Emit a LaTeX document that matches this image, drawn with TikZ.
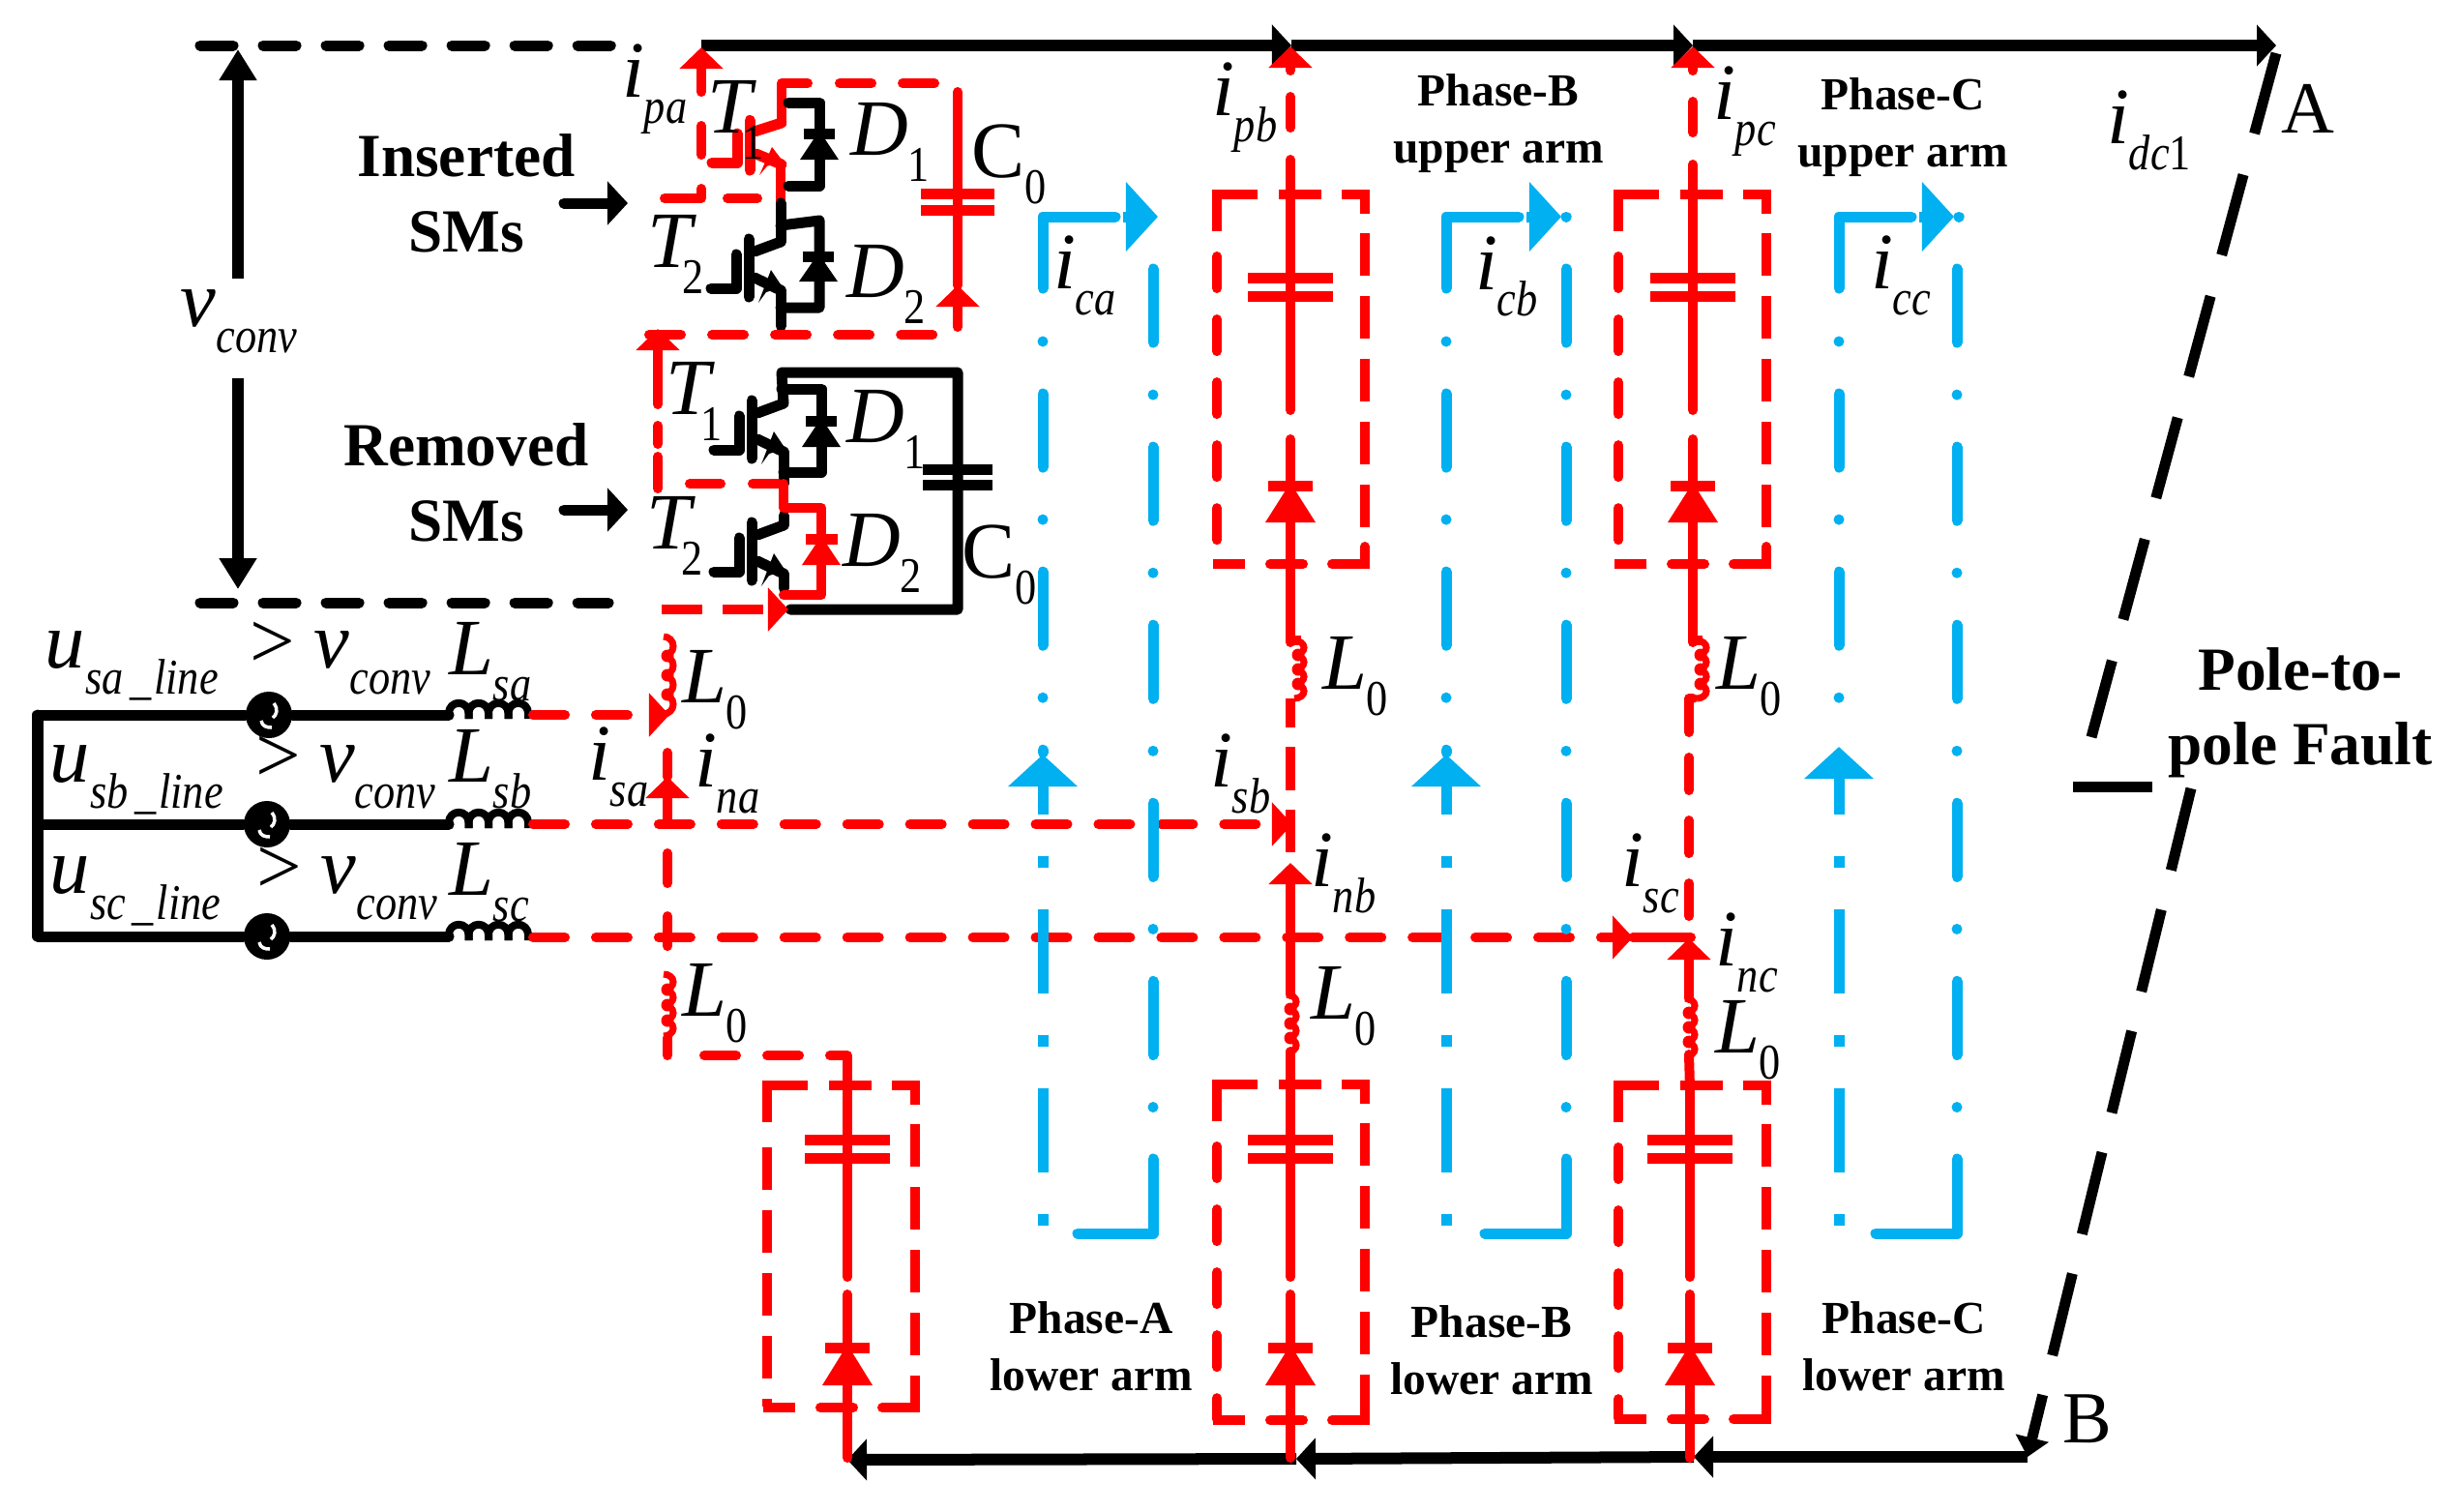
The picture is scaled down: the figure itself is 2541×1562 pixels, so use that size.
\documentclass[tikz,border=0pt]{standalone}
\usepackage{fontspec}
\setmainfont{Liberation Serif}
\usetikzlibrary{arrows.meta}

\definecolor{loopblue}{HTML}{00B0F0}

\tikzset{
  wire/.style={line width=.11cm, line cap=round, line join=round},
  railwire/.style={line width=.12cm},
  redwire/.style={wire, color=red, line width=.10cm},
  reddash/.style={redwire, dash pattern=on .33cm off .319cm},
  redbutt/.style={redwire, line cap=butt, dash pattern=on .42cm off .21cm},
  armround/.style={redwire, dash pattern=on .33cm off .32cm},
  armbutt/.style={redwire, line cap=butt, dash pattern=on .44cm off .21cm},
  bluewire/.style={wire, color=loopblue},
  bluedot/.style={bluewire, dash pattern=on .76cm off .54cm on 0cm off .54cm},
  bluedotb/.style={bluewire, dash pattern=on 0cm off .54cm on .76cm off .54cm},
  blueflat/.style={bluewire, line cap=butt, dash pattern=on .12cm off .43cm on .87cm off .43cm},
  voltdash/.style={wire, dash pattern=on .34cm off .31cm},
  faultwire/.style={wire, line cap=butt},
  railhead/.style={-{Triangle[length=.20cm, width=.42cm]}},
  redhead/.style={-{Triangle[length=.22cm, width=.44cm]}},
  sidehead/.style={-{Triangle[length=.21cm, width=.44cm]}},
  bighead/.style={-{Triangle[length=.32cm, width=.37cm]}},
  bluehead/.style={-{Triangle[length=.33cm, width=.70cm]}},
  acsource/.style={circle, fill=black, minimum size=.48cm, inner sep=0pt},
  lbl/.style={anchor=base west, inner sep=0pt, outer sep=0pt, xshift=-.04cm},
  gtsign/.style={lbl, font=\fontsize{23.5}{24}\selectfont},
  smtext/.style={align=center, inner sep=0pt, font=\fontsize{18}{22}\selectfont\bfseries},
  armtext/.style={align=center, inner sep=0pt, font=\fontsize{13.5}{16.8}\selectfont\bfseries}
}

% symbol with lowered subscript
\newcommand{\lsym}[3][0pt]{{\fontsize{23.5}{24}\selectfont\itshape #2}\kern#1\raisebox{-7.7pt}{\scalebox{.9}[1.05]{\fontsize{14}{14}\selectfont\itshape #3}}}

\newcommand{\igbt}[3]{%
  \begin{scope}[shift={(#1)}, yscale=#3, #2, wire]
    \draw (0,0) -- (-27,10);
    \draw (-33,-3) -- (-33,57);
    \draw (-46,13) -- (-46,48) -- (-72,48);
    \draw (-27,37) -- (0,50);
    \fill (-10,29) -- (2,47) -- (-15,52) -- (-23,63) -- cycle;
  \end{scope}}

\newcommand{\diode}[5]{%
  \begin{scope}[shift={(#1)}]
    \fill[#2] (-#3,-5.5) rectangle (#3,5.5);
    \fill[#2] (-#4,#5) -- (#4,#5) -- (0,-3) -- cycle;
  \end{scope}}

\newcommand{\capplates}[4]{%
  \begin{scope}[shift={(#1)}]
    \draw[#2, line width=.11cm] (-#3,0) -- (#3,0);
    \draw[#2, line width=.11cm] (-#3,#4) -- (#3,#4);
  \end{scope}}

\newcommand{\hcoil}[1]{%
  \begin{scope}[shift={(#1)}]
    \foreach \k in {0,20.5,41,61.5}
      \draw[line width=.08cm, line join=round] (\k,6) -- (\k,0)
        arc[start angle=180, end angle=0, radius=.1025cm] -- (\k+20.5,6);
  \end{scope}}

\newcommand{\vcoil}[2]{%
  \begin{scope}[shift={(#1)}]
    \foreach \k in {0,1,2,3}
      \draw[red, line width=.07cm] (0,\k*#2)
        arc[start angle=90, end angle=-90, x radius=.10cm, y radius=#2*.005cm];
    \foreach \k in {1,2,3}
      \fill[red] (4,\k*#2) circle[radius=.065cm];
  \end{scope}}

\newcommand{\armbox}[5]{%
  \draw[redwire, line cap=butt, line join=miter] (#1,#3+38) -- (#1,#3) -- (#1+42,#3);
  \draw[redwire, line cap=butt] (#1+64,#3) -- (#1+108,#3);
  \draw[redwire, line cap=butt, line join=miter] (#1+129,#3) -- (#2,#3) -- (#2,#3+20);
  \draw[#5] (#1,#3+64) -- (#1,#4-1);
  \draw[armbutt] (#2,#3+40) -- (#2,#4);
  \draw[redwire, line cap=butt, line join=miter] (#1-4,#4) -- (#1+29,#4);
  \draw[redwire] (#1+55,#4) -- (#1+89,#4);
  \draw[redwire, line join=miter] (#1+119,#4) -- (#2,#4) -- (#2,#4-18);}

\begin{document}
\begin{tikzpicture}[x=.01cm, y=-.01cm]
  \useasboundingbox (0,0) rectangle (2541,1562);

  % Define nodes
  \foreach \n/\x/\y in {
    railA/725/47, railB/1335/47, railC/1750/47, railEnd/2353/47,
    botEnd/2096/1506, botC/1751/1506, botB/1340/1508, botA/876/1509,
    faultA/2353/55, faultM/2162/762, faultN/2265/815, faultTickA/2143/813, faultTickB/2225/813,
    voltTopA/207/47, voltTopB/662/47, voltBotA/207/623, voltBotB/629/623,
    voltArrow/246/288, voltTip/246/51, voltArrowB/246/391, voltTipB/246/609,
    insA/583/210, insB/649/210, remA/583/527, remB/649/527,
    frameA/39/739, frameB/39/852, frameC/39/968,
    coilA/464/739, coilB/464/852, coilC/464/968,
    hcoilA/464/737, hcoilB/464/850, hcoilC/464/966,
    saA/551/739, saTip/692/739, sbA/551/852, sbTip/1336/852, scA/551/969, scTip/1688/969, scEnd/1748/969,
    uOneCorner/808/86, uOneT/808/127, uOneEnd/835/86, uOneDashA/868/86, uOneDashB/967/86,
    uTwoT/807/250, uOneJoin/807/170, uMid/807/210, uBranch/807/233, uBranchB/847/228,
    uDiodeOne/847/138, uDiodeTwo/846/265,
    uLegA/815/106, uLegB/847/106, uLegC/847/192, uLegD/815/192,
    uLegE/847/318, uLegF/807/318, uEmit/807/300, uEnd/807/337,
    uCapTop/990/95, uCapPlate/990/200, uCapTip/990/295, uCapEnd/990/338,
    uBotA/671/346, uBotB/965/346,
    ipaStart/725/95, ipaTip/725/49, ipaA/725/130, ipaB/725/160, ipaC/725/195, ipaD/725/205, ipaE/687/205,
    ipaF/752/205, ipaG/783/205,
    lOneT/810/417, lTwoT/810/543, lTop/808/385, lTopR/990/385, lBotR/990/630, lBotL/817/630,
    lCapPlate/990/485,
    lLegA/808/402, lLegB/849/402, lLegC/849/488, lLegD/810/488, lEmitOne/810/467, lMid/810/500,
    lRedA/810/525, lRedB/849/525, lRedC/849/615, lRedD/810/615,
    lTwoA/810/533, lEmitTwo/810/593, lTwoEnd/810/608,
    lDiodeOne/849/435, lDiodeTwo/849/557,
    lUpA/680/505, lUpB/680/472, lUpC/680/459, lUpD/680/440, lUpE/680/418, lUpTip/680/340,
    lMidA/713/500, lMidB/745/500, lMidC/778/500, lMidD/805/500,
    lInA/684/630, lInTip/815/630,
    aCoilTop/686/658, aCoilEnd/690/740, naTop/690/778, naTip/690/803, naEnd/690/852,
    naDashA/690/882, naDashB/690/985, aCoilLow/686/1007, aLowA/690/1073, aLowB/690/1091,
    aDashA/728/1091, aDashB/827/1091, aSolid/858/1091, aCorner/876/1091, aBox/876/1125,
    bStub/1334/752, bDashA/1334/772, bDashB/1334/881, nbTip/1334/892, nbEnd/1334/1028,
    bLowA/1334/1087, bLowB/1334/1125,
    cStubA/1750/722, cStubB/1746/722, cStubC/1746/757, cDashA/1746/783, cDashB/1746/947,
    ncTip/1746/970, ncEnd/1746/1032, cLowA/1746/1090, cLowB/1747/1125
  } \coordinate (\n) at (\x,\y);

  \draw[railwire, railhead] (railA) -- (railB);
  \draw[railwire, railhead] (railB) -- (railC);
  \draw[railwire, railhead] (railC) -- (railEnd);
  \draw[railwire, railhead] (botEnd) -- (botC);
  \draw[railwire, railhead] (botC) -- (botB);
  \draw[railwire, railhead] (botB) -- (botA);

  % Fault line
  \draw[faultwire, dash pattern=on .86cm off .44cm] (faultA) -- (faultM);
  \draw[faultwire] (faultTickA) -- (faultTickB);
  \draw[faultwire, dash pattern=on .87cm off .42cm,
    -{Triangle[length=.20cm, width=.34cm]}] (faultN) -- (botEnd);

  % Voltage across the SMs
  \draw[voltdash] (voltTopA) -- (voltTopB);
  \draw[voltdash] (voltBotA) -- (voltBotB);
  \draw[wire, line cap=butt, bighead] (voltArrow) -- (voltTip);
  \draw[wire, line cap=butt, bighead] (voltArrowB) -- (voltTipB);
  \draw[wire, sidehead] (insA) -- (insB);
  \draw[wire, sidehead] (remA) -- (remB);

  % AC side
  \foreach \r/\xs/\y in {A/278/739, B/276/852, C/276/968} {
    \node[acsource] (src\r) at (\xs,\y) {};
    \draw[wire] (frame\r) -- (src\r) -- (coil\r);
    \draw[white, line width=.035cm] (\xs+5,\y-12) .. controls (\xs+10,\y-6) and (\xs+8,\y) .. (\xs+4,\y+3);
    \draw[white, line width=.035cm] (\xs-8,\y+6) .. controls (\xs-7,\y+12) and (\xs-2,\y+13) .. (\xs+3,\y+13);
    \hcoil{hcoil\r}
  }
  \draw[wire] (frameA) -- (frameC);

  % Upper SM
  \igbt{uOneT}{red}{.86}
  \draw[redwire] (uOneT) -- (uOneCorner) -- (uOneEnd);
  \draw[armround] (uOneDashA) -- (uOneDashB);
  \draw[redwire, line cap=butt] (uOneJoin) -- (uMid);
  \draw[wire] (uMid) -- (uTwoT);
  \igbt{uTwoT}{black}{1}
  \draw[wire] (uLegA) -- (uLegB) -- (uLegC) -- (uLegD);
  \diode{uDiodeOne}{black}{16}{20}{27}
  \draw[wire] (uBranch) -- (uBranchB) -- (uLegE) -- (uLegF);
  \draw[wire] (uEmit) -- (uEnd);
  \diode{uDiodeTwo}{black}{16}{20}{26}
  \draw[redwire] (uCapTop) -- (uCapTip);
  \draw[redwire, redhead] (uCapEnd) -- (uCapTip);
  \capplates{uCapPlate}{red}{38}{17}
  \draw[armround] (uBotA) -- (uBotB);
  \draw[redwire, redhead] (ipaStart) -- (ipaTip);
  \draw[redwire] (ipaA) -- (ipaB);
  \draw[redwire] (ipaC) -- (ipaD) -- (ipaE);
  \draw[redwire] (ipaF) -- (ipaG);

  % Lower SM
  \igbt{lOneT}{black}{1}
  \igbt{lTwoT}{black}{1}
  \draw[wire] (lOneT) -- (lTop) -- (lTopR) -- (lBotR) -- (lBotL);
  \capplates{lCapPlate}{black}{36}{16}
  \draw[wire] (lLegA) -- (lLegB) -- (lLegC) -- (lLegD);
  \draw[wire] (lEmitOne) -- (lMid);
  \diode{lDiodeOne}{black}{16}{20}{27}
  \draw[wire] (lTwoA) -- (lTwoT);
  \draw[wire] (lEmitTwo) -- (lTwoEnd);
  \draw[redwire] (lMid) -- (lRedA) -- (lRedB) -- (lRedC) -- (lRedD);
  \diode{lDiodeTwo}{red}{16.5}{20}{27}
  \draw[redwire, redhead] (lUpE) -- (lUpTip);
  \draw[redwire] (lUpD) -- (lUpC);
  \draw[redwire] (lUpB) -- (lUpA);
  \draw[redwire] (lMidA) -- (lMidB);
  \draw[redwire] (lMidC) -- (lMidD);
  \draw[redbutt, sidehead] (lInA) -- (lInTip);

  % Phase currents
  \draw[reddash, sidehead] (saA) -- (saTip);
  \draw[reddash, sidehead] (sbA) -- (sbTip);
  \draw[reddash, sidehead] (scA) -- (scTip);
  \draw[redwire] (scTip) -- (scEnd);

  % Phase-A inductors
  \vcoil{aCoilTop}{20}
  \draw[redwire, redhead] (naEnd) -- (naTip);
  \draw[redwire] (naTip) -- (naTop);
  \draw[redwire, dash pattern=on .31cm off .34cm] (naDashA) -- (naDashB);
  \vcoil{aCoilLow}{16}
  \draw[redwire] (aLowA) -- (aLowB);
  \draw[armround] (aDashA) -- (aDashB);
  \draw[redwire] (aSolid) -- (aCorner) -- (aBox);

  % Upper arms
  \foreach \p/\x/\d/\L in {b/1334/100/1258, c/1750/105/1673} {
    \coordinate (u\p0) at (\x,48);
    \coordinate (u\p1) at (\x,73);
    \coordinate (u\p2) at (\x,\d);
    \coordinate (u\p3) at (\x,\d+32);
    \coordinate (u\p4) at (\x,\d+65);
    \coordinate (u\p5) at (\x,424);
    \coordinate (u\p6) at (\x,454);
    \coordinate (u\p7) at (\x,664);
    \coordinate (u\p8) at (\x,722);
    \coordinate (u\p9) at (\x,287);
    \coordinate (u\p10) at (\x,502);
    \draw[redwire, redhead] (u\p1) -- (u\p0);
    \draw[redwire] (u\p2) -- (u\p3);
    \draw[redwire] (u\p4) -- (u\p5);
    \draw[redwire] (u\p6) -- (u\p7);
    \capplates{u\p9}{red}{44}{19}
    \diode{u\p10}{red}{23}{26}{38}
    \armbox{\L}{\L+153}{201}{583}{armround}
  }
  \vcoil{1338,662}{15}
  \vcoil{1754,662}{15}
  \draw[redwire, line cap=butt] (1334,662) -- (1345,662);
  \draw[redwire, line cap=butt] (1750,662) -- (1760,662);
  \draw[redwire, line cap=butt] (1334,722) -- (bStub);
  \draw[redwire, line cap=butt, dash pattern=on .45cm off .20cm] (bDashA) -- (bDashB);
  \draw[redwire] (cStubA) -- (cStubB) -- (cStubC);
  \draw[redwire, dash pattern=on .34cm off .31cm] (cDashA) -- (cDashB);
  \draw[redwire, redhead] (nbEnd) -- (nbTip);
  \draw[redwire, redhead] (ncEnd) -- (ncTip);
  \vcoil{1330,1028}{15}
  \vcoil{1742,1032}{15}
  \draw[redwire] (bLowA) -- (bLowB);
  \draw[redwire] (cLowA) -- (cLowB);

  % Lower arms
  \foreach \p/\x/\h in {a/876/44, b/1334/44, c/1747/44} {
    \coordinate (l\p1) at (\x,1125);
    \coordinate (l\p2) at (\x,1320);
    \coordinate (l\p3) at (\x,1338);
    \coordinate (l\p4) at (\x,1507);
    \coordinate (l\p5) at (\x,1178);
    \coordinate (l\p6) at (\x,1393);
    \draw[redwire] (l\p1) -- (l\p2);
    \draw[redwire] (l\p3) -- (l\p4);
    \capplates{l\p5}{red}{\h}{19}
    \diode{l\p6}{red}{23}{26}{39}
  }
  \armbox{793}{946}{1122}{1455}{armbutt}
  \armbox{1258}{1411}{1121}{1468}{armround}
  \armbox{1673}{1826}{1122}{1467}{armround}

  % Circulating currents
  \foreach \p/\xl/\xr/\tipy/\hook in {a/1078/1192/780/78, b/1495/1619/780/84, c/1901/2023/772/84} {
    \coordinate (cl\p1) at (\xl+75,224);
    \coordinate (cl\p2) at (\xl,224);
    \coordinate (cl\p3) at (\xl,298);
    \coordinate (cl\p4) at (\xl,353);
    \coordinate (cl\p5) at (\xl,\tipy-2);
    \coordinate (cl\p6) at (\xl,1267);
    \coordinate (cl\p7) at (\xl,\tipy);
    \coordinate (cl\p8) at (\xr,278);
    \coordinate (cl\p9) at (\xr,1146);
    \coordinate (cl\p10) at (\xr,1198);
    \coordinate (cl\p11) at (\xr,1275);
    \coordinate (cl\p12) at (\xr-\hook,1275);
    \coordinate (cl\p13) at (\xl+83,224);
    \coordinate (cl\p14) at (\xl+119,224);
    \draw[bluewire] (cl\p1) -- (cl\p2) -- (cl\p3);
    \draw[bluedotb] (cl\p4) -- (cl\p5);
    \draw[blueflat, bluehead] (cl\p6) -- (cl\p7);
    \draw[bluedot] (cl\p8) -- (cl\p9);
    \draw[bluewire] (cl\p10) -- (cl\p11) -- (cl\p12);
    \draw[bluewire, line cap=butt, bluehead] (cl\p13) -- (cl\p14);
  }
  \draw[bluewire] (1619,224) -- (1619.2,224);
  \draw[bluewire] (2025,224) -- (2025.2,224);

  % Labels
  \node[lbl] (vconv) at (191,337) {\lsym{v}{conv}};
  \node[smtext] (inserted) at (482,200) {Inserted\\SMs};
  \node[smtext] (removed) at (482,499) {Removed\\SMs};
  \node[lbl] (ipa) at (647,100) {\lsym{i}{pa}};
  \node[lbl] (ipb) at (1257,119) {\lsym{i}{pb}};
  \node[lbl] (ipc) at (1775,123) {\lsym{i}{pc}};
  \node[lbl] (ica) at (1093,298) {\lsym{i}{ca}};
  \node[lbl] (icb) at (1529,299) {\lsym{i}{cb}};
  \node[lbl] (icc) at (1938,298) {\lsym{i}{cc}};
  \node[lbl] (isa) at (612,806) {\lsym{i}{sa}};
  \node[lbl] (ina) at (722,813) {\lsym{i}{na}};
  \node[lbl] (isb) at (1255,813) {\lsym{i}{sb}};
  \node[lbl] (inb) at (1359,916) {\lsym{i}{nb}};
  \node[lbl] (isc) at (1680,916) {\lsym{i}{sc}};
  \node[lbl] (inc) at (1777,998) {\lsym{i}{nc}};
  \node[lbl] (idc) at (2182,148) {\lsym{i}{dc\upshape 1}};
  \node[lbl] (tA) at (2362,137) {\fontsize{21.6}{22}\selectfont A};
  \node[lbl] (tB) at (2136,1491) {\fontsize{21.6}{22}\selectfont B};

  \node[lbl] (tOneU) at (735,137) {\lsym[-2.6pt]{T}{\upshape 1}};
  \node[lbl] (dOneU) at (883,160) {\lsym{D}{\upshape 1}};
  \node[lbl] (cZeroU) at (1008,183) {\lsym{\upshape C}{\upshape 0}};
  \node[lbl] (tTwoU) at (673,276) {\lsym[-2.6pt]{T}{\upshape 2}};
  \node[lbl] (dTwoU) at (879,307) {\lsym{D}{\upshape 2}};
  \node[lbl] (tOneL) at (692,428) {\lsym[-2.6pt]{T}{\upshape 1}};
  \node[lbl] (dOneL) at (879,457) {\lsym{D}{\upshape 1}};
  \node[lbl] (tTwoL) at (672,567) {\lsym[-2.6pt]{T}{\upshape 2}};
  \node[lbl] (dTwoL) at (875,585) {\lsym{D}{\upshape 2}};
  \node[lbl] (cZeroL) at (998,597) {\lsym{\upshape C}{\upshape 0}};

  \node[lbl] (lZeroA) at (709,726) {\lsym{L}{\upshape 0}};
  \node[lbl] (lZeroD) at (709,1050) {\lsym{L}{\upshape 0}};
  \node[lbl] (lZeroB) at (1371,712) {\lsym{L}{\upshape 0}};
  \node[lbl] (lZeroC) at (1778,712) {\lsym{L}{\upshape 0}};
  \node[lbl] (lZeroE) at (1359,1053) {\lsym{L}{\upshape 0}};
  \node[lbl] (lZeroF) at (1777,1088) {\lsym{L}{\upshape 0}};

  \node[lbl] (uSa) at (51,690) {\lsym{u}{sa\kern2pt\_\kern1pt line}};
  \node[gtsign] (gtA) at (263,690) {>};
  \node[lbl] (vSa) at (329,690) {\lsym{v}{conv}};
  \node[lbl] (lSa) at (468,697) {\lsym{L}{sa}};
  \node[lbl] (uSb) at (56,808) {\lsym{u}{sb\kern2pt\_\kern1pt line}};
  \node[gtsign] (gtB) at (268,808) {>};
  \node[lbl] (vSb) at (334,808) {\lsym{v}{conv}};
  \node[lbl] (lSb) at (468,808) {\lsym{L}{sb}};
  \node[lbl] (uSc) at (56,923) {\lsym{u}{sc\kern2pt\_\kern1pt line}};
  \node[gtsign] (gtC) at (270,923) {>};
  \node[lbl] (vSc) at (336,923) {\lsym{v}{conv}};
  \node[lbl] (lSc) at (468,925) {\lsym{L}{sc}};

  \node[armtext] (armBU) at (1549,128) {Phase-B\\upper arm};
  \node[armtext] (armCU) at (1967,132) {Phase-C\\upper arm};
  \node[armtext] (armAL) at (1128,1392) {Phase-A\\lower arm};
  \node[armtext] (armBL) at (1542,1396) {Phase-B\\lower arm};
  \node[armtext] (armCL) at (1968,1392) {Phase-C\\lower arm};
  \node[smtext] (fault) at (2378,737) {Pole-to-\\pole Fault};
\end{tikzpicture}
\end{document}
